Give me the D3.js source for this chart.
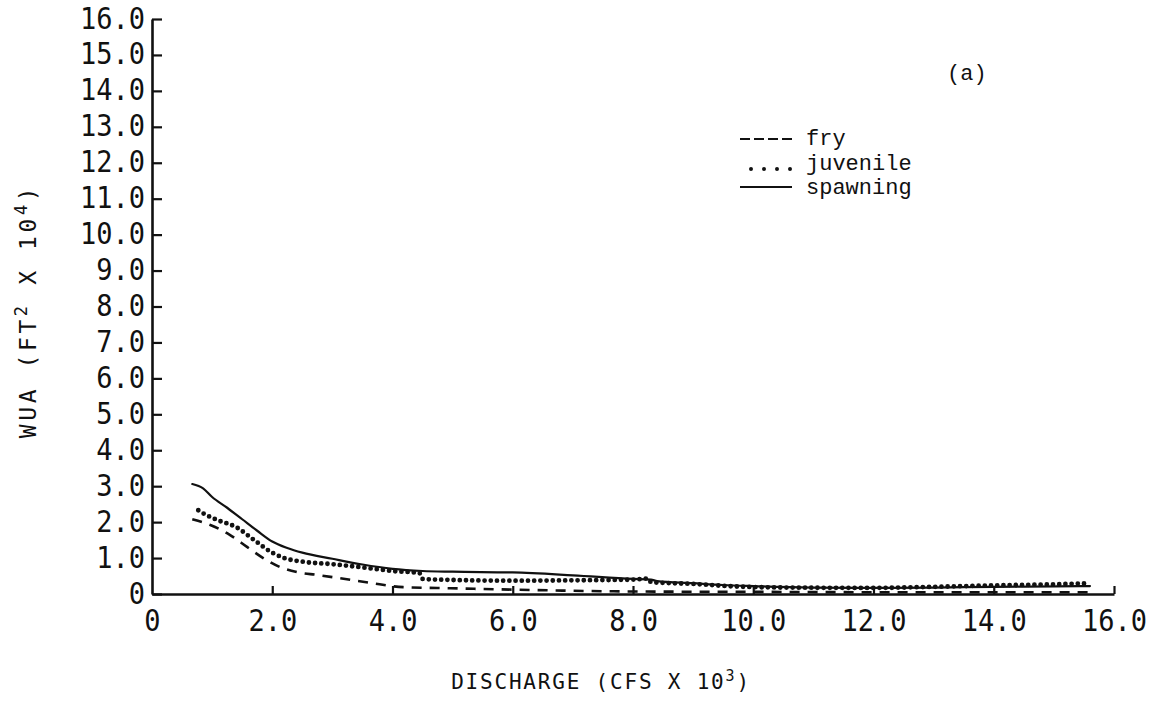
<!DOCTYPE html>
<html>
<head>
<meta charset="utf-8">
<script src="https://cdn.jsdelivr.net/npm/d3@7"></script>
<style>
  html, body { margin: 0; padding: 0; background: #fff; }
  svg { display: block; }
</style>
</head>
<body>
<svg id="chart" width="1156" height="708"></svg>
<script>
// Weighted usable area versus discharge for three life stages
const xTickValues = [0, 2, 4, 6, 8, 10, 12, 14, 16];
const yTickValues = [0, 1, 2, 3, 4, 5, 6, 7, 8, 9, 10, 11, 12, 13, 14, 15, 16];

const fryQ = [0.67, 0.97, 1.3, 1.58, 1.85, 2.13, 2.41, 2.75, 3.08, 3.63, 4.18, 4.96, 6.34, 8.0, 10.0, 12.0, 14.0, 15.6];
const fryWUA = [2.08, 1.92, 1.64, 1.31, 1.0, 0.75, 0.61, 0.53, 0.45, 0.31, 0.19, 0.16, 0.11, 0.07, 0.06, 0.05, 0.05, 0.05];

const juvenileQ = [0.77, 0.9, 1.1, 1.4, 1.7, 2.0, 2.2, 2.5, 3.0, 3.5, 4.0, 4.45, 4.5, 5.0, 6.0, 7.0, 8.0, 8.25, 8.3, 9.0, 9.7, 10.5, 12.0, 13.0, 14.0, 15.0, 15.6];
const juvenileWUA = [2.33, 2.2, 2.05, 1.86, 1.5, 1.15, 1.0, 0.9, 0.83, 0.74, 0.64, 0.58, 0.42, 0.39, 0.37, 0.38, 0.40, 0.43, 0.33, 0.28, 0.21, 0.18, 0.17, 0.2, 0.24, 0.27, 0.3];

const spawningQ = [0.67, 0.85, 1.0, 1.25, 1.5, 1.75, 2.0, 2.25, 2.5, 3.0, 3.5, 4.0, 4.5, 5.0, 6.0, 7.0, 8.0, 8.3, 8.4, 9.0, 9.5, 10.0, 11.0, 12.0, 13.0, 14.0, 15.0, 15.6];
const spawningWUA = [3.06, 2.94, 2.7, 2.4, 2.08, 1.76, 1.46, 1.28, 1.15, 0.98, 0.82, 0.70, 0.64, 0.62, 0.60, 0.52, 0.42, 0.40, 0.36, 0.30, 0.25, 0.22, 0.18, 0.17, 0.18, 0.2, 0.21, 0.22];

const legendLabels = ["fry", "juvenile", "spawning"];

const ink = "#111";
const svg = d3.select("#chart");

const x = d3.scaleLinear().domain([0, 16]).range([152, 1114]);
const y = d3.scaleLinear().domain([0, 16]).range([594, 19]);

const fmt = v => v === 0 ? "0" : d3.format(".1f")(v);
const plotFont = "'DejaVu Sans Mono', monospace";

// x axis: inward ticks, labels below
const gx = svg.append("g")
  .attr("transform", `translate(0,${y(0)})`)
  .call(d3.axisBottom(x).tickValues(xTickValues).tickSizeInner(-8).tickSizeOuter(0).tickFormat(fmt));
gx.select(".domain").attr("stroke", ink).attr("stroke-width", 2.6);
gx.selectAll(".tick line").attr("stroke", ink).attr("stroke-width", 2.2)
  .attr("opacity", d => d === 0 ? 0 : 1);
gx.selectAll(".tick text")
  .attr("fill", ink)
  .attr("font-family", plotFont)
  .attr("font-size", 27)
  .attr("y", 0).attr("dy", null)
  .attr("transform", "translate(0,37) scale(1,1.13)");

// y axis: inward ticks, labels to the left
const gy = svg.append("g")
  .attr("transform", `translate(${x(0)},0)`)
  .call(d3.axisLeft(y).tickValues(yTickValues).tickSizeInner(-10).tickSizeOuter(0).tickPadding(7).tickFormat(fmt));
gy.select(".domain").attr("stroke", ink).attr("stroke-width", 2.6);
gy.selectAll(".tick line").attr("stroke", ink).attr("stroke-width", 2.2);
gy.selectAll(".tick text")
  .attr("fill", ink)
  .attr("font-family", plotFont)
  .attr("font-size", 27)
  .attr("dy", null).attr("y", 0)
  .attr("transform", "translate(0,9) scale(1,1.13)");
gy.selectAll("text").attr("x", -7);

// Series lines
const line = d3.line().x(d => x(d[0])).y(d => y(d[1])).curve(d3.curveMonotoneX);

const series = [
  { q: fryQ, w: fryWUA, dash: "10,8", width: 2.6, cap: "butt" },
  { q: juvenileQ, w: juvenileWUA, dash: "0,6.2", width: 4.8, cap: "round" },
  { q: spawningQ, w: spawningWUA, dash: null, width: 2.2, cap: "round" }
];

svg.append("g").selectAll("path")
  .data(series)
  .join("path")
  .attr("d", s => line(d3.zip(s.q, s.w)))
  .attr("fill", "none")
  .attr("stroke", ink)
  .attr("stroke-width", s => s.width)
  .attr("stroke-linecap", s => s.cap)
  .attr("stroke-dasharray", s => s.dash);

// Legend
const legendFont = "'Liberation Mono', 'Courier New', monospace";
const legend = svg.append("g");
const legendRows = [
  { label: legendLabels[0], baseline: 145, sampleY: 139, dash: "10,4", width: 2, cap: "butt", x1: 740, x2: 792 },
  { label: legendLabels[1], baseline: 170, sampleY: 169, dash: "0,13", width: 4, cap: "round", x1: 751, x2: 791 },
  { label: legendLabels[2], baseline: 194, sampleY: 187, dash: null, width: 2, cap: "butt", x1: 740, x2: 792 }
];
legend.selectAll("line")
  .data(legendRows)
  .join("line")
  .attr("x1", d => d.x1).attr("x2", d => d.x2)
  .attr("y1", d => d.sampleY).attr("y2", d => d.sampleY)
  .attr("stroke", ink)
  .attr("stroke-width", d => d.width)
  .attr("stroke-linecap", d => d.cap)
  .attr("stroke-dasharray", d => d.dash);
legend.selectAll("text")
  .data(legendRows)
  .join("text")
  .attr("x", 806)
  .attr("y", d => d.baseline)
  .attr("font-family", legendFont)
  .attr("font-size", 22)
  .attr("fill", ink)
  .text(d => d.label);

// Panel tag
svg.append("text")
  .attr("x", 947).attr("y", 80)
  .attr("font-family", legendFont)
  .attr("font-size", 22)
  .attr("fill", ink)
  .text("(a)");

// Axis titles
const xTitle = svg.append("text")
  .attr("x", 601).attr("y", 689)
  .attr("text-anchor", "middle")
  .attr("font-family", plotFont)
  .attr("font-size", 21)
  .attr("letter-spacing", 1.8)
  .attr("fill", ink);
xTitle.append("tspan").text("DISCHARGE (CFS X 10");
xTitle.append("tspan").attr("font-size", 15).attr("dy", -8).text("3");
xTitle.append("tspan").attr("dy", 8).text(")");

const yTitle = svg.append("text")
  .attr("transform", "translate(36,311) rotate(-90)")
  .attr("text-anchor", "middle")
  .attr("font-family", plotFont)
  .attr("font-size", 23)
  .attr("letter-spacing", 3.6)
  .attr("fill", ink);
yTitle.append("tspan").text("WUA (FT");
yTitle.append("tspan").attr("font-size", 17).attr("dy", -9).text("2");
yTitle.append("tspan").attr("dy", 9).text(" X 10");
yTitle.append("tspan").attr("font-size", 17).attr("dy", -9).text("4");
yTitle.append("tspan").attr("dy", 9).text(")");
</script>
</body>
</html>
